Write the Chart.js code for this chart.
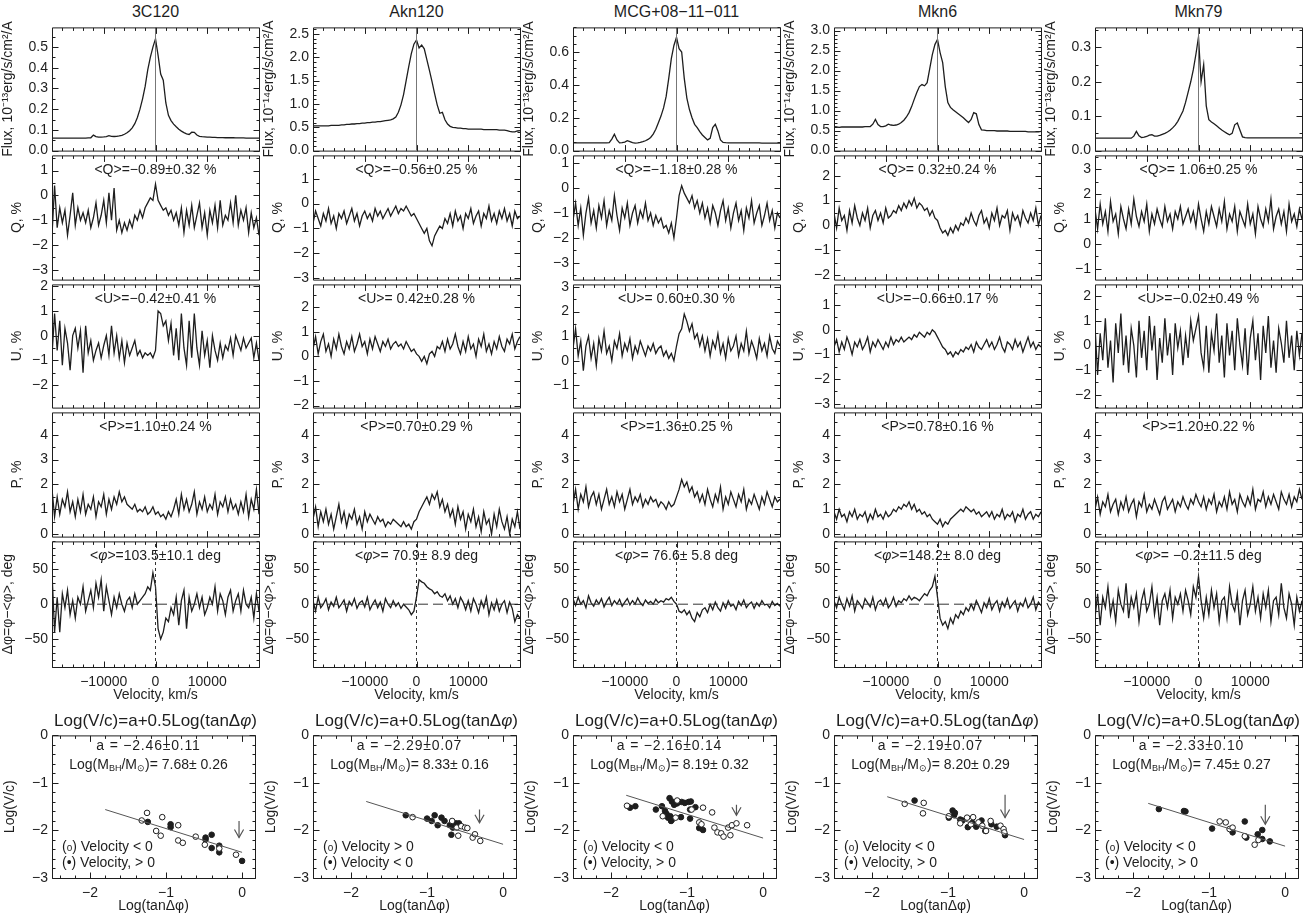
<!DOCTYPE html>
<html lang="en">
<head>
<meta charset="UTF-8">
<title>Spectropolarimetry of AGN</title>
<script src="https://cdn.jsdelivr.net/npm/chart.js"></script>
<style>
  body { margin: 0; background: #fff; width: 1308px; height: 915px; position: relative; overflow: hidden;
         font-family: "Liberation Sans", Arial, sans-serif; color: #1e1e1e; }
  canvas { position: absolute; }
  .lbl { position: absolute; white-space: pre; line-height: 1; transform: translate(-50%, -50%); }
  .lbl.left { transform: translate(0, -50%); }
  .lbl.wide { letter-spacing: 0.8px; }
  .lbl sub { font-size: 9px; vertical-align: -2px; letter-spacing: 0; }
  .lbl .o { font-size: 10px; }
</style>
</head>
<body>
<script>
// ---- names and stats ----
const objects = ['3C120', 'Akn120', 'MCG+08\u221211\u2212011', 'Mkn6', 'Mkn79'];
const fluxUnit = ['\u207B\u00B9\u00B3', '\u207B\u00B9\u2074', '\u207B\u00B9\u00B3', '\u207B\u00B9\u2074', '\u207B\u00B9\u00B3'];
const qStats = ['\u22120.89\u00B10.32', '\u22120.56\u00B10.25', '\u22121.18\u00B10.28', ' 0.32\u00B10.24', ' 1.06\u00B10.25'];
const uStats = ['\u22120.42\u00B10.41', ' 0.42\u00B10.28', ' 0.60\u00B10.30', '\u22120.66\u00B10.17', '\u22120.02\u00B10.49'];
const pStats = ['1.10\u00B10.24', '0.70\u00B10.29', '1.36\u00B10.25', '0.78\u00B10.16', '1.20\u00B10.22'];
const phiStats = ['103.5\u00B110.1', ' 70.9\u00B1 8.9', ' 76.6\u00B1 5.8', '148.2\u00B1 8.0', ' \u22120.2\u00B111.5'];
const aStats = ['\u22122.46\u00B10.11', '\u22122.29\u00B10.07', '\u22122.16\u00B10.14', '\u22122.19\u00B10.07', '\u22122.33\u00B10.10'];
const massStats = [' 7.68\u00B1 0.26', ' 8.33\u00B1 0.16', ' 8.19\u00B1 0.32', ' 8.20\u00B1 0.29', ' 7.45\u00B1 0.27'];
const openLabel = ['Velocity &lt; 0', 'Velocity &gt; 0', 'Velocity &lt; 0', 'Velocity &lt; 0', 'Velocity &lt; 0'];
const fillLabel = ['Velocity, &gt; 0', 'Velocity &lt; 0', 'Velocity, &gt; 0', 'Velocity, &gt; 0', 'Velocity, &gt; 0'];

// ---- axes ----
const velTicks = [-10000, 0, 10000];
const fluxMax = [0.595, 2.64, 0.75, 3.08, 0.358];
const fluxTicks = [[0, 0.1, 0.2, 0.3, 0.4, 0.5], [0, 0.5, 1, 1.5, 2, 2.5], [0, 0.2, 0.4, 0.6], [0, 0.5, 1, 1.5, 2, 2.5, 3], [0, 0.1, 0.2, 0.3]];
const fluxMinor = [0.05, 0.1, 0.05, 0.1, 0.05];
const qRange = [[-3.39, 1.61], [-3.06, 1.94], [-3.68, 1.32], [-2.18, 2.82], [-1.44, 3.56]];
const qTicks = [[-3, -2, -1, 0, 1], [-3, -2, -1, 0, 1], [-3, -2, -1, 0, 1], [-2, -1, 0, 1, 2], [-1, 0, 1, 2, 3]];
const uRange = [[-2.92, 2.08], [-2.08, 2.92], [-1.9, 3.1], [-3.16, 1.84], [-2.52, 2.48]];
const uTicks = [[-2, -1, 0, 1, 2], [-2, -1, 0, 1, 2], [-1, 0, 1, 2, 3], [-3, -2, -1, 0, 1], [-2, -1, 0, 1, 2]];
const pTicks = [0, 1, 2, 3, 4];
const phiTicks = [-50, 0, 50];
const logTanTicks = [-2, -1, 0];
const logVTicks = [-3, -2, -1, 0];

// ---- spectra: 500 km/s bins from -20000 to +20000 ----
const velocity = [];
for (let v = -20000; v <= 20000; v += 500) velocity.push(v);

const flux3C120 = [
  0.060,0.060,0.060,0.060,0.060,0.060,0.060,0.060,0.060,0.060,
  0.060,0.060,0.060,0.060,0.061,0.062,0.075,0.068,0.065,0.065,
  0.066,0.068,0.072,0.069,0.068,0.069,0.071,0.074,0.079,0.086,
  0.096,0.110,0.130,0.160,0.200,0.250,0.310,0.390,0.450,0.500,
  0.540,0.460,0.370,0.340,0.230,0.170,0.145,0.128,0.115,0.103,
  0.094,0.087,0.081,0.078,0.089,0.088,0.075,0.069,0.067,0.066,
  0.065,0.065,0.064,0.064,0.063,0.063,0.063,0.062,0.062,0.062,
  0.062,0.061,0.061,0.061,0.061,0.060,0.060,0.060,0.060,0.060,
  0.060];
const fluxAkn120 = [
  0.53,0.53,0.53,0.53,0.53,0.53,0.53,0.54,0.54,0.54,
  0.54,0.55,0.55,0.56,0.56,0.57,0.57,0.58,0.58,0.59,
  0.59,0.60,0.60,0.61,0.61,0.62,0.62,0.63,0.64,0.65,
  0.66,0.68,0.72,0.82,0.98,1.20,1.50,1.80,2.08,2.28,
  2.37,2.20,2.26,2.18,1.95,1.72,1.48,1.22,0.98,0.80,
  0.82,0.66,0.57,0.52,0.50,0.49,0.48,0.48,0.47,0.47,
  0.46,0.46,0.46,0.46,0.46,0.46,0.45,0.45,0.45,0.45,
  0.45,0.45,0.44,0.44,0.44,0.43,0.41,0.40,0.40,0.42,
  0.43];
const fluxMCG = [
  0.047,0.047,0.047,0.047,0.047,0.047,0.047,0.047,0.047,0.047,
  0.047,0.047,0.047,0.047,0.048,0.070,0.100,0.065,0.047,0.048,
  0.052,0.060,0.055,0.048,0.046,0.047,0.050,0.054,0.060,0.068,
  0.080,0.100,0.130,0.170,0.210,0.260,0.330,0.440,0.560,0.640,
  0.690,0.620,0.600,0.440,0.320,0.250,0.200,0.160,0.140,0.115,
  0.095,0.080,0.065,0.075,0.140,0.160,0.120,0.065,0.050,0.048,
  0.047,0.047,0.047,0.047,0.047,0.047,0.047,0.047,0.047,0.047,
  0.047,0.047,0.047,0.046,0.046,0.046,0.046,0.046,0.046,0.046,
  0.046];
const fluxMkn6 = [
  0.60,0.59,0.58,0.59,0.59,0.59,0.59,0.59,0.59,0.59,
  0.59,0.59,0.60,0.60,0.60,0.66,0.78,0.65,0.60,0.60,
  0.62,0.66,0.64,0.63,0.64,0.66,0.70,0.76,0.84,0.95,
  1.10,1.28,1.45,1.60,1.65,1.62,1.70,2.05,2.40,2.65,
  2.78,2.45,2.20,1.60,1.20,1.08,1.02,0.97,0.92,0.87,
  0.82,0.76,0.70,0.78,0.95,0.92,0.65,0.52,0.51,0.50,
  0.50,0.50,0.50,0.49,0.49,0.49,0.49,0.49,0.48,0.48,
  0.48,0.48,0.48,0.48,0.48,0.47,0.47,0.47,0.47,0.47,
  0.48];
const fluxMkn79 = [
  0.036,0.036,0.036,0.036,0.036,0.036,0.036,0.036,0.036,0.036,
  0.036,0.036,0.036,0.036,0.036,0.042,0.056,0.043,0.038,0.039,
  0.041,0.045,0.046,0.042,0.042,0.044,0.047,0.050,0.054,0.059,
  0.066,0.074,0.085,0.100,0.115,0.140,0.170,0.200,0.235,0.280,
  0.330,0.200,0.250,0.130,0.090,0.083,0.078,0.072,0.066,0.060,
  0.055,0.050,0.046,0.050,0.075,0.080,0.060,0.040,0.038,0.037,
  0.037,0.037,0.037,0.037,0.037,0.037,0.037,0.037,0.037,0.037,
  0.037,0.037,0.037,0.037,0.037,0.037,0.037,0.037,0.037,0.037,
  0.037];

const q3C120 = [
  -1.6,0.4,-1.3,-0.5,-1.1,-0.6,-1.6,-0.8,0.1,-1.2,
  -0.5,-1.0,-0.7,-1.1,-0.6,-1.3,-0.9,-0.3,-1.2,-0.8,
  -0.2,-1.1,0.1,-1.0,0.3,-1.4,-1.0,-1.5,-1.1,-1.4,
  -1.0,-1.3,-0.8,-1.0,-0.6,-0.9,-0.5,-0.3,-0.1,-0.2,
  0.45,-0.2,-0.4,-0.6,-0.5,-0.8,-0.6,-1.0,-0.7,-1.2,
  -0.5,-1.5,-0.6,-1.2,-0.4,-1.3,-0.8,-0.3,-1.3,-0.7,
  -1.6,-0.6,-1.1,-0.4,-1.3,-0.2,-1.2,-0.8,-1.0,-0.3,
  -1.1,0.0,-1.2,-0.6,-1.0,-0.5,-1.5,-0.7,-1.3,-0.9,
  -1.6];
const u3C120 = [
  -0.8,0.9,-0.6,0.6,-1.2,0.3,-0.3,-1.4,0.0,0.3,
  -0.5,0.2,-1.5,0.4,-0.7,-0.2,-1.0,-0.6,-0.3,-0.9,
  -0.4,0.0,-0.8,0.4,-0.7,0.0,-0.9,-0.2,-1.1,-0.3,
  -0.8,-0.5,-0.2,-0.8,-0.6,-0.9,-0.7,-0.8,-0.7,-0.9,
  -0.6,1.0,0.9,0.4,0.6,-0.2,0.5,-0.8,0.3,-1.0,
  0.9,-0.5,-1.2,0.6,-0.9,0.9,-0.5,-1.2,0.2,-0.8,
  -0.2,-1.3,0.0,-0.6,-1.0,-0.3,-0.9,-0.4,-0.6,-0.1,
  -0.8,0.0,-0.3,-0.6,-0.1,-0.5,-0.3,-0.1,-0.9,-0.3,
  -1.0];
const p3C120 = [
  1.8,0.7,1.5,0.8,1.4,1.1,1.7,0.9,1.3,0.7,
  1.4,0.9,1.6,0.8,1.2,1.0,1.5,0.7,1.3,1.1,
  1.6,0.8,1.4,1.0,1.5,1.2,1.7,1.3,1.5,1.2,
  1.1,1.0,1.2,0.9,1.0,0.9,1.1,0.8,0.9,1.1,
  0.8,0.9,0.7,0.8,0.6,0.9,0.7,1.0,1.4,0.8,
  1.6,1.0,1.4,0.9,1.2,1.7,0.8,1.3,1.0,1.5,
  0.9,1.2,1.0,1.6,0.8,1.3,1.1,1.5,0.9,1.4,
  1.0,1.2,0.8,1.3,0.9,1.6,0.7,1.4,1.0,1.8,
  0.8];
const phi3C120 = [
  45,-40,10,-40,15,-5,20,-15,5,-20,
  10,0,25,-10,5,20,-5,30,10,35,
  -10,25,5,-15,10,-5,15,0,-10,5,
  10,-5,15,0,5,10,15,25,20,45,
  25,-35,-50,-40,-20,-25,-5,-15,10,-30,
  5,20,-35,10,-10,0,15,-5,10,-15,
  -5,10,0,25,-10,15,5,-15,10,20,
  -10,5,15,-10,20,0,-5,10,-20,15,
  -10];

const qAkn120 = [
  -0.8,-0.3,-0.6,-0.9,-0.4,-0.7,-0.2,-0.8,-0.5,-1.0,
  -0.4,-0.6,-0.3,-0.8,-0.5,-0.2,-0.7,-0.4,-0.9,-0.5,
  -0.3,-0.6,-0.4,-0.7,-0.2,-0.5,-0.3,-0.6,-0.4,-0.2,
  -0.5,-0.3,-0.1,-0.4,-0.2,-0.3,-0.1,-0.3,-0.5,-0.4,
  -0.6,-0.8,-1.0,-1.2,-1.0,-1.5,-1.7,-1.3,-1.1,-0.9,
  -1.0,-0.6,-0.8,-0.4,-0.9,-0.3,-0.7,-0.5,-1.0,-0.4,
  -0.6,-0.2,-0.8,-0.5,-0.3,-0.9,-0.4,-0.6,-0.1,-0.7,
  -0.4,-0.8,-0.3,-0.6,-0.2,-0.7,-0.4,-0.9,-0.3,-0.6,
  -0.5];
const uAkn120 = [
  0.3,0.8,0.1,0.6,0.9,0.2,0.5,0.0,0.7,0.3,
  0.9,0.4,0.1,0.6,0.3,0.8,0.2,0.5,0.9,0.4,
  0.6,0.1,0.7,0.3,0.8,0.5,0.2,0.6,0.4,0.7,
  0.3,0.5,0.6,0.4,0.5,0.3,0.6,0.4,0.2,0.3,
  0.1,0.0,-0.2,0.0,-0.3,0.1,0.2,0.0,0.4,0.3,
  0.6,0.2,0.7,0.3,0.5,0.9,0.4,0.1,0.6,0.2,
  0.8,0.3,0.5,0.0,0.7,0.4,0.9,0.2,0.5,0.1,
  0.6,0.3,0.8,0.4,0.2,0.7,0.5,0.9,0.3,0.6,
  0.8];
const pAkn120 = [
  0.6,1.1,0.3,0.9,0.5,1.0,0.4,0.8,0.2,0.7,
  1.2,0.5,0.9,0.3,0.8,0.6,1.0,0.4,0.7,0.2,
  0.9,0.5,0.8,0.6,0.4,0.7,0.5,0.6,0.3,0.5,
  0.4,0.6,0.5,0.4,0.3,0.5,0.3,0.4,0.2,0.5,
  0.6,0.9,1.1,1.3,1.5,1.2,1.6,1.4,1.7,1.1,
  1.4,0.9,1.2,0.7,1.0,0.4,1.1,0.6,0.9,0.2,
  0.8,0.5,1.0,0.3,0.7,0.1,0.9,0.4,0.6,0.0,
  0.8,0.3,1.0,0.5,0.2,0.7,0.0,0.6,0.3,0.9,
  0.2];
const phiAkn120 = [
  5,-10,10,-5,0,8,-8,3,-3,10,
  -5,0,6,-10,4,-2,8,-6,2,5,
  -4,10,-8,0,6,-5,3,-10,8,0,
  -5,5,-3,2,-6,0,-4,-8,-15,-10,
  10,35,32,30,25,22,20,15,18,12,
  10,15,5,12,0,8,-5,10,3,-8,
  5,-10,8,0,-12,5,-5,10,-15,2,
  -8,6,-10,0,5,-12,3,-6,-25,-15,
  -20];

const qMCG = [
  -1.3,-0.6,-1.5,-0.8,-1.9,-1.0,-0.4,-1.4,-0.9,-1.6,
  -0.7,-1.2,-0.5,-1.5,-0.9,-1.3,-0.3,-1.1,-1.7,-0.8,
  -1.2,-0.6,-1.5,-1.0,-0.7,-1.4,-0.9,-1.2,-0.6,-1.3,
  -1.0,-1.5,-1.1,-1.4,-1.2,-1.6,-1.5,-1.8,-1.4,-2.0,
  -1.2,-0.3,0.1,-0.2,-0.4,-0.6,-0.3,-0.8,-0.5,-1.0,
  -0.6,-1.2,-0.8,-1.4,-0.7,-1.0,-1.5,-0.9,-0.5,-1.3,
  -0.8,-1.6,-1.0,-0.6,-1.3,-0.9,-1.7,-0.8,-1.2,-0.5,
  -1.4,-1.0,-0.7,-1.5,-1.1,-0.6,-1.3,-0.9,-1.6,-1.0,
  -1.2];
const uMCG = [
  0.5,1.3,0.2,0.8,-0.4,0.6,1.0,0.1,0.7,-0.2,
  0.9,0.4,1.2,0.3,0.6,0.0,0.8,0.5,1.1,0.2,
  0.7,0.4,0.9,0.1,0.6,0.3,0.8,0.5,0.2,0.6,
  0.4,0.7,0.3,0.5,0.6,0.2,0.4,0.1,0.3,0.0,
  0.6,1.1,1.3,1.9,1.6,1.2,1.5,0.9,1.1,0.6,
  1.0,0.4,0.9,0.2,0.8,0.5,1.1,0.3,0.7,0.1,
  0.9,0.4,0.6,1.0,0.2,0.7,0.4,1.2,0.3,0.8,
  0.5,0.1,0.9,0.4,0.7,0.2,1.0,0.5,0.3,0.8,
  0.6];
const pMCG = [
  1.2,1.8,1.0,1.6,1.3,1.9,1.1,1.5,1.7,1.2,
  1.6,1.0,1.4,1.8,1.2,1.5,1.1,1.7,1.3,1.6,
  1.0,1.4,1.8,1.2,1.5,1.3,1.6,1.1,1.4,1.2,
  1.5,1.3,1.4,1.1,1.3,1.2,1.0,1.3,1.1,1.2,
  1.5,1.8,2.2,1.9,2.1,1.7,1.9,1.5,1.7,1.3,
  1.6,1.2,1.8,1.4,1.1,1.6,1.3,1.9,1.0,1.5,
  1.2,1.7,1.4,1.1,1.6,1.3,1.8,1.0,1.4,1.2,
  1.6,1.3,1.0,1.5,1.2,1.7,1.4,1.1,1.5,1.3,
  1.4];
const phiMCG = [
  8,-2,10,0,5,-5,12,2,-3,6,
  0,8,-4,4,10,-2,5,0,7,-3,
  3,8,-1,5,0,9,2,-2,6,1,
  4,0,7,2,5,3,8,6,10,4,
  0,-10,-12,-8,-15,-10,-20,-25,-12,-18,
  -8,-5,-12,0,-8,3,-5,-10,2,-6,
  5,-3,0,-8,4,-2,6,-5,0,3,
  -6,2,-3,5,-1,0,-5,4,-2,1,
  -3];

const qMkn6 = [
  0.5,-0.1,0.7,0.2,0.4,-0.2,0.6,0.1,0.8,0.3,
  0.0,0.5,0.2,0.7,-0.1,0.4,0.6,0.2,0.5,0.1,
  0.7,0.3,0.4,0.6,0.5,0.8,0.6,0.9,0.7,1.0,
  0.8,1.1,0.7,0.9,0.8,0.6,0.7,0.4,0.6,0.3,
  0.2,-0.1,-0.3,-0.2,-0.4,-0.1,-0.3,0.0,-0.2,0.1,
  0.0,0.3,0.1,0.5,0.2,0.0,0.4,0.6,0.1,0.3,
  -0.1,0.5,0.2,0.7,0.0,0.4,0.3,0.6,-0.2,0.5,
  0.2,0.4,0.0,0.6,0.3,0.1,0.5,0.2,0.7,0.0,
  0.4];
const uMkn6 = [
  -0.7,-0.4,-0.9,-0.5,-0.8,-0.3,-0.6,-1.0,-0.5,-0.7,
  -0.4,-0.8,-0.6,-0.3,-0.9,-0.5,-0.7,-0.4,-0.6,-0.8,
  -0.5,-0.7,-0.3,-0.6,-0.4,-0.5,-0.3,-0.5,-0.4,-0.3,
  -0.4,-0.2,-0.3,-0.1,-0.2,-0.3,-0.1,-0.2,0.0,-0.1,
  -0.3,-0.5,-0.7,-0.8,-1.0,-0.9,-1.1,-0.9,-1.0,-0.8,
  -0.9,-0.7,-0.8,-0.6,-0.9,-0.5,-0.7,-0.8,-0.6,-0.4,
  -0.7,-0.5,-0.8,-0.6,-0.3,-0.7,-0.9,-0.5,-0.6,-0.8,
  -0.4,-0.7,-0.5,-0.9,-0.6,-0.3,-0.7,-0.5,-0.8,-0.6,
  -0.7];
const pMkn6 = [
  0.9,0.6,1.0,0.7,0.8,0.5,0.9,0.7,1.0,0.6,
  0.8,0.7,0.9,0.5,0.8,0.6,1.0,0.7,0.8,0.6,
  0.9,0.7,0.8,1.0,0.9,1.1,1.0,1.2,1.1,1.3,
  1.0,1.2,0.9,1.0,0.8,0.9,0.7,0.8,0.6,0.5,
  0.4,0.6,0.3,0.5,0.4,0.6,0.7,0.8,0.9,1.0,
  0.9,1.1,1.0,0.9,1.0,0.8,0.9,0.7,0.8,0.9,
  0.7,0.9,0.6,0.8,0.7,1.0,0.6,0.8,0.7,0.9,
  0.5,0.8,0.7,1.0,0.6,0.8,0.9,0.6,0.8,0.7,
  0.9];
const phiMkn6 = [
  5,-5,10,0,-8,8,-3,12,-10,5,
  0,-6,8,2,-4,10,-8,3,6,-2,
  8,-5,0,10,-3,5,2,8,5,12,
  6,10,8,5,10,15,12,20,25,40,
  10,-20,-30,-25,-35,-20,-28,-15,-20,-10,
  -15,-5,-10,0,-8,5,-3,-12,2,-5,
  8,-8,0,5,-10,3,-4,8,-6,0,
  5,-10,2,-3,8,-5,0,10,-8,3,
  -2];

const qMkn79 = [
  1.4,0.6,1.6,0.8,1.3,0.5,1.7,0.9,1.2,0.4,
  1.5,1.0,0.6,1.4,0.8,1.8,1.1,0.7,1.3,0.9,
  1.6,0.5,1.2,0.8,1.4,1.0,0.7,1.5,0.9,1.2,
  0.6,1.3,1.0,1.5,0.8,1.1,1.4,0.9,1.3,0.7,
  1.6,1.0,0.5,1.3,0.8,1.5,1.1,0.7,1.4,0.9,
  1.7,0.6,1.2,0.9,1.5,0.5,1.3,1.0,0.7,1.6,
  0.8,1.2,0.4,1.5,1.0,0.7,1.4,0.9,1.8,0.6,
  1.1,1.4,0.8,1.3,0.5,1.6,0.9,1.2,0.7,1.4,
  1.0];
const uMkn79 = [
  0.8,-1.2,0.5,-0.6,1.1,-0.9,0.2,-1.5,0.9,-0.3,
  1.3,-0.8,0.4,-1.1,0.7,0.0,-1.3,1.0,-0.5,0.6,
  -1.0,1.2,-0.2,0.8,-1.4,0.3,-0.7,1.1,-0.4,0.5,
  -1.2,0.9,-0.1,0.6,-0.8,0.4,-0.5,1.0,0.2,0.7,
  1.2,-0.3,-0.9,0.8,-1.1,0.5,-0.2,1.3,-0.7,0.4,
  -1.3,0.9,-0.4,0.6,-1.0,1.1,0.0,-0.8,0.7,-1.2,
  0.3,1.0,-0.6,0.5,-1.4,0.8,-0.3,1.2,-0.9,0.2,
  -1.1,0.7,0.1,-0.7,1.0,-0.5,0.4,-1.0,0.6,-0.4,
  0.5];
const pMkn79 = [
  1.0,1.5,0.8,1.3,1.1,1.6,0.9,1.2,1.4,0.8,
  1.3,1.0,1.5,0.9,1.2,1.4,0.7,1.3,1.1,1.6,
  0.9,1.2,1.0,1.4,1.1,0.8,1.3,1.5,1.0,1.2,
  1.4,0.9,1.3,1.1,1.5,1.2,1.0,1.4,1.2,1.6,
  1.3,1.1,1.5,1.0,1.4,1.2,1.6,0.9,1.3,1.1,
  1.5,1.0,1.7,1.2,1.4,0.9,1.6,1.3,1.1,1.5,
  1.2,1.8,1.0,1.4,1.3,1.7,1.1,1.5,1.2,1.6,
  1.3,1.0,1.7,1.4,1.2,1.6,1.1,1.5,1.3,1.8,
  1.4];
const phiMkn79 = [
  -20,15,-30,10,-5,25,-15,5,-25,20,
  0,-10,30,-20,10,-5,15,-25,5,20,
  -10,0,25,-15,10,-30,5,15,-5,20,
  -20,10,0,15,-10,20,5,-15,25,10,
  40,5,-20,10,-15,20,-5,15,-25,5,
  10,-20,25,0,-10,15,-30,5,20,-15,
  0,25,-10,10,-20,15,-5,20,-25,5,
  10,-15,30,-5,-20,15,0,-30,10,-10,
  5];

// ---- Log(V/c) vs Log(tan dphi): [logTan, logV] ----
const open3C120 = [[-1.32,-1.79],[-1.25,-1.63],[-1.05,-1.72],[-1.13,-2.01],[-1.07,-2.11],[-0.84,-1.89],[-0.84,-2.21],[-0.78,-2.26],[-0.61,-2.13],[-0.49,-2.30],[-0.30,-2.38],[-0.08,-2.51]];
const fill3C120 = [[-1.24,-1.82],[-0.94,-1.87],[-0.94,-1.93],[-0.48,-2.15],[-0.48,-2.19],[-0.40,-2.09],[-0.40,-2.37],[-0.30,-2.32],[-0.30,-2.46],[0.0,-2.64]];
const openAkn120 = [[-1.19,-1.72],[-0.67,-1.80],[-0.61,-1.94],[-0.59,-2.11],[-0.55,-1.91],[-0.50,-1.94],[-0.47,-1.95],[-0.40,-2.15],[-0.37,-2.08],[-0.30,-2.22]];
const fillAkn120 = [[-1.28,-1.68],[-1.00,-1.75],[-0.90,-1.68],[-0.94,-1.80],[-0.86,-1.89],[-0.81,-1.73],[-0.77,-1.80],[-0.70,-1.89],[-0.68,-2.09],[-0.66,-1.94],[-0.62,-1.85],[-0.58,-1.85]];
const openMCG = [[-1.79,-1.48],[-1.32,-1.70],[-1.15,-1.73],[-1.13,-1.37],[-0.94,-1.56],[-0.79,-1.52],[-0.67,-1.62],[-0.84,-1.83],[-0.81,-1.87],[-0.64,-1.94],[-0.60,-2.04],[-0.55,-2.06],[-0.52,-2.13],[-0.46,-1.94],[-0.43,-2.10],[-0.41,-1.89],[-0.35,-1.85],[-0.21,-1.89]];
const fillMCG = [[-1.75,-1.52],[-1.68,-1.49],[-1.41,-1.56],[-1.33,-1.49],[-1.29,-1.59],[-1.23,-1.32],[-1.20,-1.39],[-1.17,-1.46],[-1.13,-1.43],[-1.07,-1.40],[-1.03,-1.42],[-0.98,-1.40],[-0.96,-1.56],[-0.95,-1.39],[-0.89,-1.51],[-1.25,-1.73],[-1.22,-1.70],[-1.21,-1.80],[-1.19,-1.76],[-1.08,-1.72],[-0.96,-1.75],[-0.84,-1.95],[-0.79,-1.99],[-1.27,-1.65]];
const openMkn6 = [[-1.57,-1.44],[-1.32,-1.42],[-1.33,-1.64],[-0.99,-1.70],[-0.84,-1.85],[-0.75,-1.73],[-0.67,-1.72],[-0.70,-1.87],[-0.60,-1.83],[-0.55,-1.90],[-0.50,-2.01],[-0.44,-1.80],[-0.31,-1.90],[-0.27,-1.97],[-0.26,-2.04]];
const fillMkn6 = [[-1.44,-1.37],[-0.99,-1.73],[-0.94,-1.58],[-0.92,-1.68],[-0.91,-1.63],[-0.84,-1.77],[-0.81,-1.79],[-0.74,-1.93],[-0.68,-1.84],[-0.63,-1.92],[-0.56,-1.79],[-0.51,-2.01],[-0.43,-1.87],[-0.36,-1.92],[-0.25,-2.10]];
const openMkn79 = [[-0.86,-1.81],[-0.78,-1.83],[-0.73,-1.97],[-0.69,-1.94],[-0.53,-2.12],[-0.40,-2.30],[-0.35,-2.20]];
const fillMkn79 = [[-1.66,-1.55],[-1.33,-1.59],[-1.31,-1.60],[-0.96,-1.96],[-0.69,-2.04],[-0.53,-1.81],[-0.51,-2.15],[-0.36,-2.08],[-0.30,-1.99],[-0.30,-2.18],[-0.20,-2.23]];
const fitX = [-1.8, 0];
const fitY = [[-1.56,-2.46],[-1.39,-2.29],[-1.26,-2.16],[-1.29,-2.19],[-1.43,-2.33]];
const arrowX = [-0.04, -0.31, -0.35, -0.25, -0.26];
const arrowFrom = [-1.80, -1.56, -1.46, -1.25, -1.46];
const arrowTo = [-2.15, -1.84, -1.68, -1.73, -1.87];

// ---- lookup tables ----
const fluxes = [flux3C120, fluxAkn120, fluxMCG, fluxMkn6, fluxMkn79];
const qs = [q3C120, qAkn120, qMCG, qMkn6, qMkn79];
const us = [u3C120, uAkn120, uMCG, uMkn6, uMkn79];
const ps = [p3C120, pAkn120, pMCG, pMkn6, pMkn79];
const phis = [phi3C120, phiAkn120, phiMCG, phiMkn6, phiMkn79];
const opens = [open3C120, openAkn120, openMCG, openMkn6, openMkn79];
const fills = [fill3C120, fillAkn120, fillMCG, fillMkn6, fillMkn79];

// ---- layout ----
const ink = '#1e1e1e';
const colLeft = [52, 313, 573, 834, 1095];
const plotW = 207, axisW = 52, pad = 10;
const rowTop = [25, 153, 282, 410, 539];
const rowH = [128, 129, 128, 129, 128];
const tickFont = { family: 'Liberation Sans', size: 14 };

const fmt = d => v => (d ? v.toFixed(d) : String(v)).replace('-', '\u2212');
const pts = (xs, ys) => xs.map((x, i) => ({ x: x, y: ys[i] }));
const pairs = arr => arr.map(p => ({ x: p[0], y: p[1] }));

function frame(cfg) {
  return {
    id: 'idlFrame',
    afterDatasetsDraw(chart) {
      const { ctx, chartArea: a, scales: { x, y } } = chart;
      const L = a.left + 0.5, R = a.right + 0.5, T = a.top + 0.5, B = a.bottom + 0.5;
      ctx.save();
      ctx.strokeStyle = ink;
      ctx.lineWidth = 1;
      ctx.beginPath();
      ctx.rect(L, T, R - L, B - T);
      const tick = (scale, vals, len, horiz) => vals.forEach(v => {
        if (v < scale.min || v > scale.max) return;
        const p = Math.round(scale.getPixelForValue(v)) + 0.5;
        if (horiz) { ctx.moveTo(p, B); ctx.lineTo(p, B - len); ctx.moveTo(p, T); ctx.lineTo(p, T + len); }
        else { ctx.moveTo(L, p); ctx.lineTo(L + len, p); ctx.moveTo(R, p); ctx.lineTo(R - len, p); }
      });
      const minors = (scale, step) => {
        const out = [];
        for (let n = Math.ceil(scale.min / step - 1e-6); n * step <= scale.max + 1e-9; n++) out.push(n * step);
        return out;
      };
      tick(x, cfg.xTicks, 6, true);
      tick(y, cfg.yTicks, 6, false);
      tick(x, minors(x, cfg.xMinor), 3, true);
      tick(y, minors(y, cfg.yMinor), 3, false);
      ctx.stroke();
      ctx.restore();
    }
  };
}

function panel(c, top, h, cfg) {
  const xAxisH = cfg.xTitle ? cfg.xAxisH : 0;
  const cv = document.createElement('canvas');
  cv.width = axisW + plotW + 1;
  cv.height = pad + h + (xAxisH || pad);
  cv.style.left = (colLeft[c] - axisW) + 'px';
  cv.style.top = (top - pad) + 'px';
  document.body.appendChild(cv);
  new Chart(cv, {
    type: 'scatter',
    data: { datasets: cfg.datasets },
    options: {
      responsive: false, animation: false, devicePixelRatio: 1,
      layout: { padding: { top: pad, right: 1, bottom: xAxisH ? 0 : pad, left: 0 } },
      plugins: { legend: { display: false }, tooltip: { enabled: false } },
      scales: {
        x: {
          type: 'linear', min: cfg.xMin, max: cfg.xMax, display: !!xAxisH,
          grid: { display: false, drawTicks: false }, border: { display: false },
          afterBuildTicks: s => { s.ticks = cfg.xTicks.map(v => ({ value: v })); },
          afterFit: s => { s.height = xAxisH; },
          ticks: { font: tickFont, color: ink, padding: 7, maxRotation: 0, autoSkip: false, callback: fmt(0) },
          title: { display: !!xAxisH, text: cfg.xTitle, font: tickFont, color: ink, padding: { top: 0, bottom: cfg.xTitlePad || 0 } }
        },
        y: {
          type: 'linear', min: cfg.yMin, max: cfg.yMax,
          grid: { display: false, drawTicks: false }, border: { display: false },
          afterBuildTicks: s => { s.ticks = cfg.yTicks.map(v => ({ value: v })); },
          afterFit: s => { s.width = axisW; },
          ticks: { font: tickFont, color: ink, padding: 4, autoSkip: false, callback: fmt(cfg.yDigits || 0) },
          title: { display: true, text: cfg.yTitle, font: tickFont, color: ink, padding: { top: cfg.yTitlePad, bottom: 0 } }
        }
      }
    },
    plugins: [frame(cfg)]
  });
}

function label(html, x, y, size, cls) {
  const d = document.createElement('div');
  d.className = 'lbl' + (cls ? ' ' + cls : '');
  d.innerHTML = html;
  d.style.left = x + 'px';
  d.style.top = y + 'px';
  d.style.fontSize = size + 'px';
  document.body.appendChild(d);
}

const spectrum = arr => ({ data: pts(velocity, arr), showLine: true, borderColor: ink, borderWidth: 1.3, pointRadius: 0 });
const velAxis = { xMin: -20000, xMax: 20000, xTicks: velTicks, xMinor: 2000 };

for (let c = 0; c < 5; c++) {
  const mid = colLeft[c] + plotW / 2;
  label(objects[c], mid, 12, 16);

  panel(c, rowTop[0], rowH[0], Object.assign({}, velAxis, {
    yMin: 0, yMax: fluxMax[c], yTicks: fluxTicks[c], yMinor: fluxMinor[c], yDigits: 1,
    yTitle: 'Flux, 10' + fluxUnit[c] + 'erg/s/cm\u00B2/A', yTitlePad: 0,
    datasets: [
      { data: [{ x: 0, y: 0 }, { x: 0, y: fluxMax[c] }], showLine: true, borderColor: '#777', borderWidth: 1, pointRadius: 0 },
      { data: pts(velocity, fluxes[c]), showLine: true, borderColor: ink, borderWidth: 1.3, pointRadius: 0 }
    ]
  }));

  panel(c, rowTop[1], rowH[1], Object.assign({}, velAxis, {
    yMin: qRange[c][0], yMax: qRange[c][1], yTicks: qTicks[c], yMinor: 0.5,
    yTitle: 'Q, %', yTitlePad: 9, datasets: [spectrum(qs[c])]
  }));
  label('&lt;Q&gt;=' + qStats[c] + ' %', mid, rowTop[1] + 16, 14);

  panel(c, rowTop[2], rowH[2], Object.assign({}, velAxis, {
    yMin: uRange[c][0], yMax: uRange[c][1], yTicks: uTicks[c], yMinor: 0.5,
    yTitle: 'U, %', yTitlePad: 9, datasets: [spectrum(us[c])]
  }));
  label('&lt;U&gt;=' + uStats[c] + ' %', mid, rowTop[2] + 16, 14);

  panel(c, rowTop[3], rowH[3], Object.assign({}, velAxis, {
    yMin: -0.1, yMax: 4.9, yTicks: pTicks, yMinor: 0.5,
    yTitle: 'P, %', yTitlePad: 9, datasets: [spectrum(ps[c])]
  }));
  label('&lt;P&gt;=' + pStats[c] + ' %', mid, rowTop[3] + 16, 14);

  panel(c, rowTop[4], rowH[4], Object.assign({}, velAxis, {
    yMin: -90, yMax: 90, yTicks: phiTicks, yMinor: 10,
    yTitle: '\u0394\u03C6=\u03C6\u2212<\u03C6>, deg', yTitlePad: 0,
    xTitle: 'Velocity, km/s', xAxisH: 40, xTitlePad: 3,
    datasets: [
      { data: [{ x: -20000, y: 0 }, { x: 20000, y: 0 }], showLine: true, borderColor: '#333', borderWidth: 1, borderDash: [10, 5], pointRadius: 0 },
      { data: [{ x: 0, y: -90 }, { x: 0, y: 90 }], showLine: true, borderColor: '#333', borderWidth: 1, borderDash: [3, 3], pointRadius: 0 },
      spectrum(phis[c])
    ]
  }));
  label('&lt;<i>\u03C6</i>&gt;=' + phiStats[c] + ' deg', mid, rowTop[4] + 16, 14);

  // Log(V/c) vs Log(tan dphi)
  label('Log(V/c)=a+0.5Log(tan\u0394<i>\u03C6</i>)', mid, 720, 17);
  panel(c, 733, 145, {
    xMin: -2.5, xMax: 0.17, xTicks: logTanTicks, xMinor: 0.2,
    yMin: -3, yMax: 0, yTicks: logVTicks, yMinor: 0.2,
    yTitle: 'Log(V/c)', yTitlePad: 2,
    xTitle: 'Log(tan\u0394\u03C6)', xAxisH: 37, xTitlePad: 0,
    datasets: [
      { data: pts(fitX, fitY[c]), showLine: true, borderColor: '#555', borderWidth: 1, pointRadius: 0 },
      { data: [{ x: arrowX[c], y: arrowFrom[c] }, { x: arrowX[c], y: arrowTo[c] }], showLine: true, borderColor: '#555', borderWidth: 1.2, pointRadius: 0 },
      { data: [{ x: arrowX[c] - 0.06, y: arrowTo[c] + 0.17 }, { x: arrowX[c], y: arrowTo[c] }, { x: arrowX[c] + 0.06, y: arrowTo[c] + 0.17 }], showLine: true, borderColor: '#555', borderWidth: 1.2, pointRadius: 0 },
      { data: pairs(opens[c]), pointRadius: 2.8, pointBackgroundColor: '#fff', pointBorderColor: ink, pointBorderWidth: 1 },
      { data: pairs(fills[c]), pointRadius: 2.8, pointBackgroundColor: ink, pointBorderColor: ink, pointBorderWidth: 1 }
    ]
  });
  label('a = ' + aStats[c], mid - 7, 745, 14, 'wide');
  label('Log(M<sub>BH</sub>/M<sub>\u2299</sub>)=' + massStats[c], mid - 7, 765, 14);
  label('(<span class="o">o</span>) ' + openLabel[c], colLeft[c] + 10, 846, 14, 'left');
  label('(\u2022) ' + fillLabel[c], colLeft[c] + 10, 862, 14, 'left');
}
</script>
</body>
</html>
